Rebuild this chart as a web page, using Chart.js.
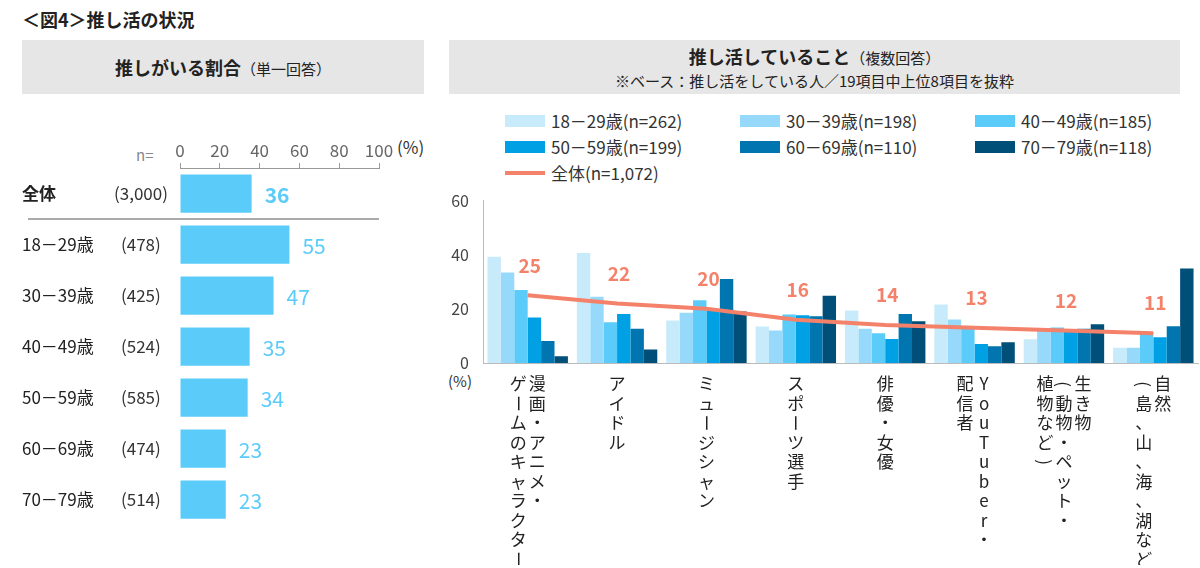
<!DOCTYPE html>
<html><head><meta charset="utf-8">
<script src="https://cdn.jsdelivr.net/npm/chart.js@4"></script>
<style>
body{margin:0;width:1200px;height:568px;background:#fff;font-family:"Noto Sans CJK JP",sans-serif;position:relative;overflow:hidden;color:#222}
.abs{position:absolute}
.hdr{background:#e6e6e6;text-align:center}
.leg{position:absolute;font-size:17px;color:#333;display:flex;align-items:center;white-space:nowrap}
.sw{width:40px;height:12px;margin-right:6px}
</style></head><body>
<div class="abs" style="left:22px;top:6px;font-size:18px;font-weight:bold">＜図4＞推し活の状況</div>
<div class="abs hdr" style="left:22px;top:40px;width:402px;height:54px;line-height:54px"><b style="font-size:18px">推しがいる割合</b><span style="font-size:15px">（単一回答）</span></div>
<div class="abs hdr" style="left:449px;top:40px;width:731px;height:54px;line-height:22px;padding-top:5px;box-sizing:border-box"><b style="font-size:18px">推し活していること</b><span style="font-size:15px">（複数回答）</span><br><span style="font-size:15px">※ベース：推し活をしている人／19項目中上位8項目を抜粋</span></div>
<div class="abs" style="left:136px;top:144px;font-size:15px;color:#888">n=</div>
<div class="abs" style="left:397px;top:134px;font-size:17px;color:#333">(%)</div>
<div class="abs" style="left:448px;top:370px;font-size:15px;color:#333">(%)</div>
<div id="legend"></div>
<div class="abs" style="left:0;top:130px;width:440px;height:400px"><canvas id="c1"></canvas></div>
<div class="abs" style="left:430px;top:185px;width:770px;height:380px"><canvas id="c2"></canvas></div>
<script>
const leftLabels=["全体","18－29歳","30－39歳","40－49歳","50－59歳","60－69歳","70－79歳"];
const leftN=["(3,000)","(478)","(425)","(524)","(585)","(474)","(514)"];
const leftValues=[36,55,47,35,34,23,23];

const categories=[["漫画・アニメ・","ゲームのキャラクター"],["アイドル"],["ミュージシャン"],["スポーツ選手"],["俳優・女優"],["YouTuber・","配信者"],["生き物","(動物・ペット・","植物など)"],["自然","(島、山、海、湖など)"]];
const seriesNames=["18－29歳(n=262)","30－39歳(n=198)","40－49歳(n=185)","50－59歳(n=199)","60－69歳(n=110)","70－79歳(n=118)"];
const s1829=[39.3,40.6,15.7,13.5,19.4,21.6,8.8,5.6];
const s3039=[33.4,24.5,18.6,12.0,12.7,16.1,12.0,5.6];
const s4049=[27.0,15.1,23.2,17.9,11.0,13.3,13.1,11.0];
const s5059=[16.8,18.1,19.4,17.6,8.9,7.0,12.0,9.5];
const s6069=[8.1,12.7,31.0,17.3,18.1,6.2,12.7,13.6];
const s7079=[2.5,5.0,19.0,24.8,15.4,7.7,14.3,34.9];
const totalName="全体(n=1,072)";
const totalValues=[25,22,20,16,14,13,12,11];
const yTicks=[0,20,40,60];

const colors=["#C7EBFB","#96D9FB","#5BCBFA","#00A0E4","#0075B0","#004F78"];
const lineColor="#F4826B";
const FONT='"Noto Sans CJK JP", sans-serif';

const lg=document.getElementById('legend');
const pos=[[505,108],[740,108],[975,108],[505,134],[740,134],[975,134]];
seriesNames.forEach((n,i)=>{lg.insertAdjacentHTML('beforeend',`<div class="leg" style="left:${pos[i][0]}px;top:${pos[i][1]}px"><div class="sw" style="background:${colors[i]}"></div>${n}</div>`)});
lg.insertAdjacentHTML('beforeend',`<div class="leg" style="left:505px;top:160px"><div class="sw" style="height:4px;background:${lineColor}"></div>${totalName}</div>`);

const leftPlugin={id:'lp',afterDraw(c){
 const ctx=c.ctx,y=c.scales.y,x=c.scales.x;
 ctx.save();ctx.textBaseline='middle';
 leftLabels.forEach((l,i)=>{
  const py=y.getPixelForValue(i);
  ctx.fillStyle='#222';
  ctx.font=(i==0?'bold ':'')+'17px '+FONT;ctx.textAlign='left';
  ctx.fillText(l,22,py);
  ctx.font='17px '+FONT;ctx.fillStyle='#333';
  ctx.fillText(leftN[i],i==0?114:121,py);
  ctx.fillStyle='#5BCBFA';ctx.font=(i==0?'bold ':'')+'21px '+FONT;
  ctx.fillText(String(leftValues[i]),x.getPixelForValue(leftValues[i])+13,py+2);
 });
 const sy=(y.getPixelForValue(0)+y.getPixelForValue(1))/2;
 ctx.strokeStyle='#aaa';ctx.lineWidth=2;ctx.beginPath();ctx.moveTo(28,sy);ctx.lineTo(379,sy);ctx.stroke();
 ctx.restore();
}};
new Chart(document.getElementById('c1'),{type:'bar',
 data:{labels:leftLabels,datasets:[{data:leftValues,backgroundColor:'#5BCBFA',categoryPercentage:0.75,barPercentage:1}]},
 options:{indexAxis:'y',responsive:true,maintainAspectRatio:false,animation:false,
  layout:{padding:{left:180,right:61,top:8,bottom:5}},
  plugins:{legend:{display:false},tooltip:{enabled:false}},
  scales:{x:{position:'top',min:0,max:100,ticks:{stepSize:20,color:'#666',font:{size:17,family:FONT},padding:2},
    grid:{drawOnChartArea:false,tickLength:5,color:'#999'},border:{color:'#999'},afterFit(s){s.height=30}},
   y:{display:false}}},
 plugins:[leftPlugin]});

const vertRot="ー()（）";
const rightPlugin={id:'rp',afterDraw(c){
 const ctx=c.ctx,x=c.scales.x,y=c.scales.y;ctx.save();
 ctx.font='17px '+FONT;ctx.fillStyle='#222';ctx.textAlign='center';ctx.textBaseline='middle';
 categories.forEach((cols,i)=>{
  const cx=x.getPixelForValue(i);
  cols.forEach((col,j)=>{
   const px=cx+(cols.length-1)/2*19-j*19;
   [...col].forEach((ch,k)=>{
    const py=y.bottom+21+k*19.5;
    if(vertRot.includes(ch)){ctx.save();ctx.translate(px,py);ctx.rotate(Math.PI/2);ctx.fillText(ch,0,0);ctx.restore();}
    else ctx.fillText(ch,px,py);
   });
  });
 });
 ctx.fillStyle=lineColor;ctx.font='bold 19px '+FONT;
 totalValues.forEach((v,i)=>{ctx.fillText(String(v),x.getPixelForValue(i)+2,y.getPixelForValue(v)-30)});
 ctx.restore();
}};
const bars=[s1829,s3039,s4049,s5059,s6069,s7079].map((d,i)=>({type:'bar',data:d,backgroundColor:colors[i],categoryPercentage:0.9,barPercentage:1,order:2}));
new Chart(document.getElementById('c2'),{type:'bar',
 data:{labels:categories.map(c=>c.join('')),datasets:[{type:'line',data:totalValues,borderColor:lineColor,borderWidth:4,pointRadius:0,order:1},...bars]},
 options:{responsive:true,maintainAspectRatio:false,animation:false,
  layout:{padding:{left:13,right:2,top:14,bottom:5}},
  plugins:{legend:{display:false},tooltip:{enabled:false}},
  scales:{x:{ticks:{display:false},grid:{display:false},border:{color:'#bbb'},afterFit(s){s.height=197}},
   y:{min:0,max:60,afterBuildTicks(s){s.ticks=yTicks.map(v=>({value:v}))},ticks:{color:'#444',font:{size:16,family:FONT},padding:6},
    grid:{display:false},border:{color:'#bbb'},afterFit(s){s.width=40}}}},
 plugins:[rightPlugin]});
</script></body></html>
